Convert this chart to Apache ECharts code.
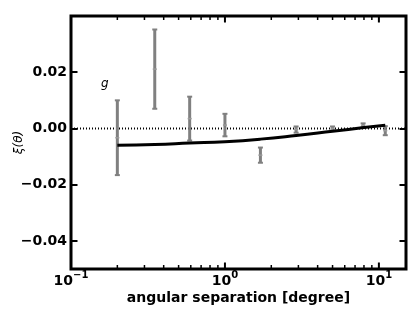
<!DOCTYPE html>
<html>
<head>
<meta charset="utf-8">
<script src="https://cdn.jsdelivr.net/npm/echarts@6/dist/echarts.min.js"></script>
<style>html,body{margin:0;padding:0;background:#fff;}#c{width:415px;height:312px;}</style>
</head>
<body>
<div id="c"></div>
<script>
// ---- data ----
const sepDeg = [0.2, 0.35, 0.59, 1.0, 1.7, 2.9, 5.0, 7.9, 11.0];
const xiVal  = [-0.0033, 0.0211, 0.0035, 0.0012, -0.0095, -0.0004, 0.0000, 0.0011, -0.0008];
const xiErr  = [0.0133, 0.0141, 0.0078, 0.0040, 0.0027, 0.0011, 0.0007, 0.0007, 0.0016];
const modelX = [0.2, 0.35, 0.59, 1.0, 1.7, 2.9, 5.0, 8.0, 11.0];
const modelY = [-0.0060, -0.0057, -0.0052, -0.0047, -0.0038, -0.0025, -0.0010, 0.0003, 0.0011];
const zeroX  = [0.1, 15];
const zeroY  = [0, 0];
const majorTicks = [0.1, 1, 10];
const minorTicks = [0.2,0.3,0.4,0.5,0.6,0.7,0.8,0.9,2,3,4,5,6,7,8,9];
const xRange = [0.1, 15];
const yRange = [-0.05, 0.04];
const xTitle = 'angular separation [degree]';
const yTitle = 'ξ(θ)';
const panelLabel = 'g';

const chart = echarts.init(document.getElementById('c'), null, {renderer: 'canvas'});

function xLabel(v) {
  const l = Math.log10(v);
  const e = Math.round(l);
  if (Math.abs(l - e) > 1e-6) return '';
  const s = e < 0 ? '\u2212' + (-e) : String(e);
  return '{b|10}{s|' + s + '}';
}
function yLabel(v) {
  if (Math.abs(v - yRange[0]) < 1e-9 || Math.abs(v - yRange[1]) < 1e-9) return '';
  const t = Math.abs(v).toFixed(2);
  return (v < -1e-9 ? '\u2212' : '') + t;
}

const tickStyle = {show: true, inside: true, length: 6.5, lineStyle: {color: '#000', width: 2}};
const font = 'DejaVu Sans';

function tickSeries(values, len, width) {
  return {
    type: 'custom', xAxisIndex: 0, yAxisIndex: 0, z: 4, silent: true, clip: false,
    data: values.map(v => [v, 0]),
    renderItem: function (params, api) {
      const cs = params.coordSys;
      const px = api.coord([api.value(0), 0])[0];
      return {type: 'group', children: [
        {type: 'line', shape: {x1: px, y1: cs.y + cs.height, x2: px, y2: cs.y + cs.height - len}, style: {stroke: '#000', lineWidth: width}},
        {type: 'line', shape: {x1: px, y1: cs.y, x2: px, y2: cs.y + len}, style: {stroke: '#000', lineWidth: width}}
      ]};
    }
  };
}

const option = {
  animation: false,
  backgroundColor: '#fff',
  grid: {left: 71, right: 9, top: 16, bottom: 43, containLabel: false, outerBoundsMode: 'none', show: true, borderColor: '#000', borderWidth: 3, backgroundColor: 'transparent'},
  xAxis: [{
    type: 'log', logBase: 10, min: xRange[0], max: xRange[1], position: 'bottom',
    axisLine: {show: false}, splitLine: {show: false}, axisTick: {show: false},
    axisLabel: {margin: 1, formatter: xLabel, showMaxLabel: false,
      rich: {b: {fontFamily: font, fontWeight: 'bold', fontSize: 14, color: '#000', lineHeight: 18, verticalAlign: 'bottom'},
             s: {fontFamily: font, fontWeight: 'bold', fontSize: 10, color: '#000', lineHeight: 10, verticalAlign: 'top'}}},
    name: xTitle, nameLocation: 'middle', nameGap: 22, nameMoveOverlap: false,
    nameTextStyle: {fontFamily: font, fontWeight: 'bold', fontSize: 14, color: '#000'}
  }, {
    type: 'log', logBase: 10, min: xRange[0], max: xRange[1], position: 'top',
    axisLine: {show: false}, splitLine: {show: false}, axisTick: {show: false}, axisLabel: {show: false}
  }],
  yAxis: [{
    type: 'value', min: yRange[0], max: yRange[1], position: 'left',
    axisLine: {show: false}, splitLine: {show: false}, axisTick: tickStyle,
    axisLabel: {margin: 4, formatter: yLabel, fontFamily: font, fontWeight: 'bold', fontSize: 14, color: '#000'},
    name: yTitle, nameLocation: 'middle', nameGap: 46, nameRotate: 90, nameMoveOverlap: false,
    nameTextStyle: {fontFamily: font, fontStyle: 'italic', fontSize: 12, color: '#000'}
  }, {
    type: 'value', min: yRange[0], max: yRange[1], position: 'right',
    axisLine: {show: false}, splitLine: {show: false}, axisTick: tickStyle, axisLabel: {show: false}
  }],
  graphic: [{
    type: 'text', left: 101, top: 78,
    style: {text: panelLabel, font: 'italic 12px "DejaVu Sans"', fill: '#000'}
  }],
  series: [
    {
      type: 'line', xAxisIndex: 0, yAxisIndex: 0, z: 1, symbol: 'none', silent: true,
      data: zeroX.map((x, i) => [x, zeroY[i]]),
      lineStyle: {color: '#000', width: 2, type: [1, 2]}
    },
    {
      type: 'custom', xAxisIndex: 0, yAxisIndex: 0, z: 2, silent: true,
      data: sepDeg.map((x, i) => [x, xiVal[i], xiErr[i]]),
      renderItem: function (params, api) {
        const x = api.value(0), y = api.value(1), e = api.value(2);
        const t = api.coord([x, y + e]), b = api.coord([x, y - e]), c = api.coord([x, y]);
        const col = '#808080';
        return {type: 'group', children: [
          {type: 'line', shape: {x1: t[0], y1: t[1], x2: b[0], y2: b[1]}, style: {stroke: col, lineWidth: 3}},
          {type: 'line', shape: {x1: t[0] - 2.5, y1: t[1], x2: t[0] + 2.5, y2: t[1]}, style: {stroke: col, lineWidth: 2}},
          {type: 'line', shape: {x1: b[0] - 2.5, y1: b[1], x2: b[0] + 2.5, y2: b[1]}, style: {stroke: col, lineWidth: 2}},
          {type: 'line', shape: {x1: c[0] - 2, y1: c[1], x2: c[0] + 2, y2: c[1]}, style: {stroke: '#999', lineWidth: 1.5}}
        ]};
      }
    },
    {
      type: 'line', xAxisIndex: 0, yAxisIndex: 0, z: 3, symbol: 'none', smooth: true, silent: true,
      data: modelX.map((x, i) => [x, modelY[i]]),
      lineStyle: {color: '#000', width: 3}
    },
    tickSeries(majorTicks, 6.5, 2),
    tickSeries(minorTicks, 4, 1.5)
  ]
};
chart.setOption(option);
</script>
</body>
</html>
